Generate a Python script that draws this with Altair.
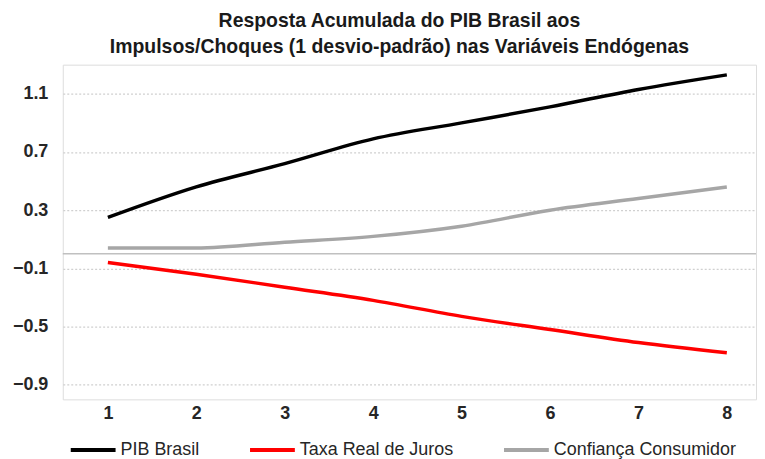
import altair as alt
import pandas as pd

periods = [1, 2, 3, 4, 5, 6, 7, 8]
pib = [0.25, 0.46, 0.62, 0.79, 0.90, 1.01, 1.13, 1.23]
juros = [-0.06, -0.14, -0.23, -0.32, -0.43, -0.52, -0.61, -0.68]
confianca = [0.04, 0.04, 0.08, 0.12, 0.19, 0.30, 0.38, 0.46]
series = ["PIB Brasil", "Taxa Real de Juros", "Confiança Consumidor"]
colors = ["#000000", "#ff0000", "#a6a6a6"]
y_ticks = [-0.9, -0.5, -0.1, 0.3, 0.7, 1.1]

rows = []
for name, vals in zip(series, [pib, juros, confianca]):
    for p, v in zip(periods, vals):
        rows.append({"periodo": p, "valor": v, "serie": name})
df = pd.DataFrame(rows)

x_scale = alt.Scale(domain=[0.49, 8.33], nice=False, zero=False)
y_scale = alt.Scale(domain=[-1.0, 1.3], nice=False, zero=False)

lines = alt.Chart(df).mark_line(strokeWidth=3.5, interpolate="monotone").encode(
    x=alt.X("periodo:Q", scale=x_scale,
            axis=alt.Axis(values=periods, title=None, grid=False, ticks=False, domain=False,
                          labelFontSize=18, labelFont="Liberation Sans", labelFontWeight="bold",
                          labelColor="#262626", labelPadding=5, format="d")),
    y=alt.Y("valor:Q", scale=y_scale,
            axis=alt.Axis(values=y_ticks, title=None, ticks=False, domain=False,
                          labelFontSize=18, labelFont="Liberation Sans", labelFontWeight="bold",
                          labelColor="#262626", labelPadding=15, format=".1f",
                          gridColor="#d0d0d0", gridDash=[2, 2], gridWidth=1.2)),
    color=alt.Color("serie:N", scale=alt.Scale(domain=series, range=colors),
                    legend=alt.Legend(title=None, orient="none", direction="horizontal",
                                      legendX=6, legendY=362,
                                      symbolType="stroke", symbolSize=2025, symbolStrokeWidth=4,
                                      labelFontSize=18, labelFont="Liberation Sans",
                                      labelColor="#262626", labelOffset=3, columnPadding=42,
                                      labelLimit=300)),
    order=alt.Order("serie:N"),
)

zero_df = pd.DataFrame({"v": [0.0]})
zero = alt.Chart(zero_df).mark_rule(color="#c0c0c0", strokeWidth=1.5).encode(
    y=alt.Y("v:Q", scale=y_scale)
)

chart = alt.layer(zero, lines).properties(
    width=696, height=336,
    title=alt.TitleParams(
        ["Resposta Acumulada do PIB Brasil aos",
         "Impulsos/Choques (1 desvio-padrão) nas Variáveis Endógenas"],
        font="Liberation Sans", fontSize=19.5, fontWeight="bold", color="#1a1a1a",
        anchor="middle", frame="group", lineHeight=26, offset=7, dx=-10,
    ),
).configure_view(stroke=None).configure(padding={"left": 4, "top": 2, "right": 0, "bottom": 0})

chart.save("out.html", embed_options={"renderer": "svg", "actions": False})
